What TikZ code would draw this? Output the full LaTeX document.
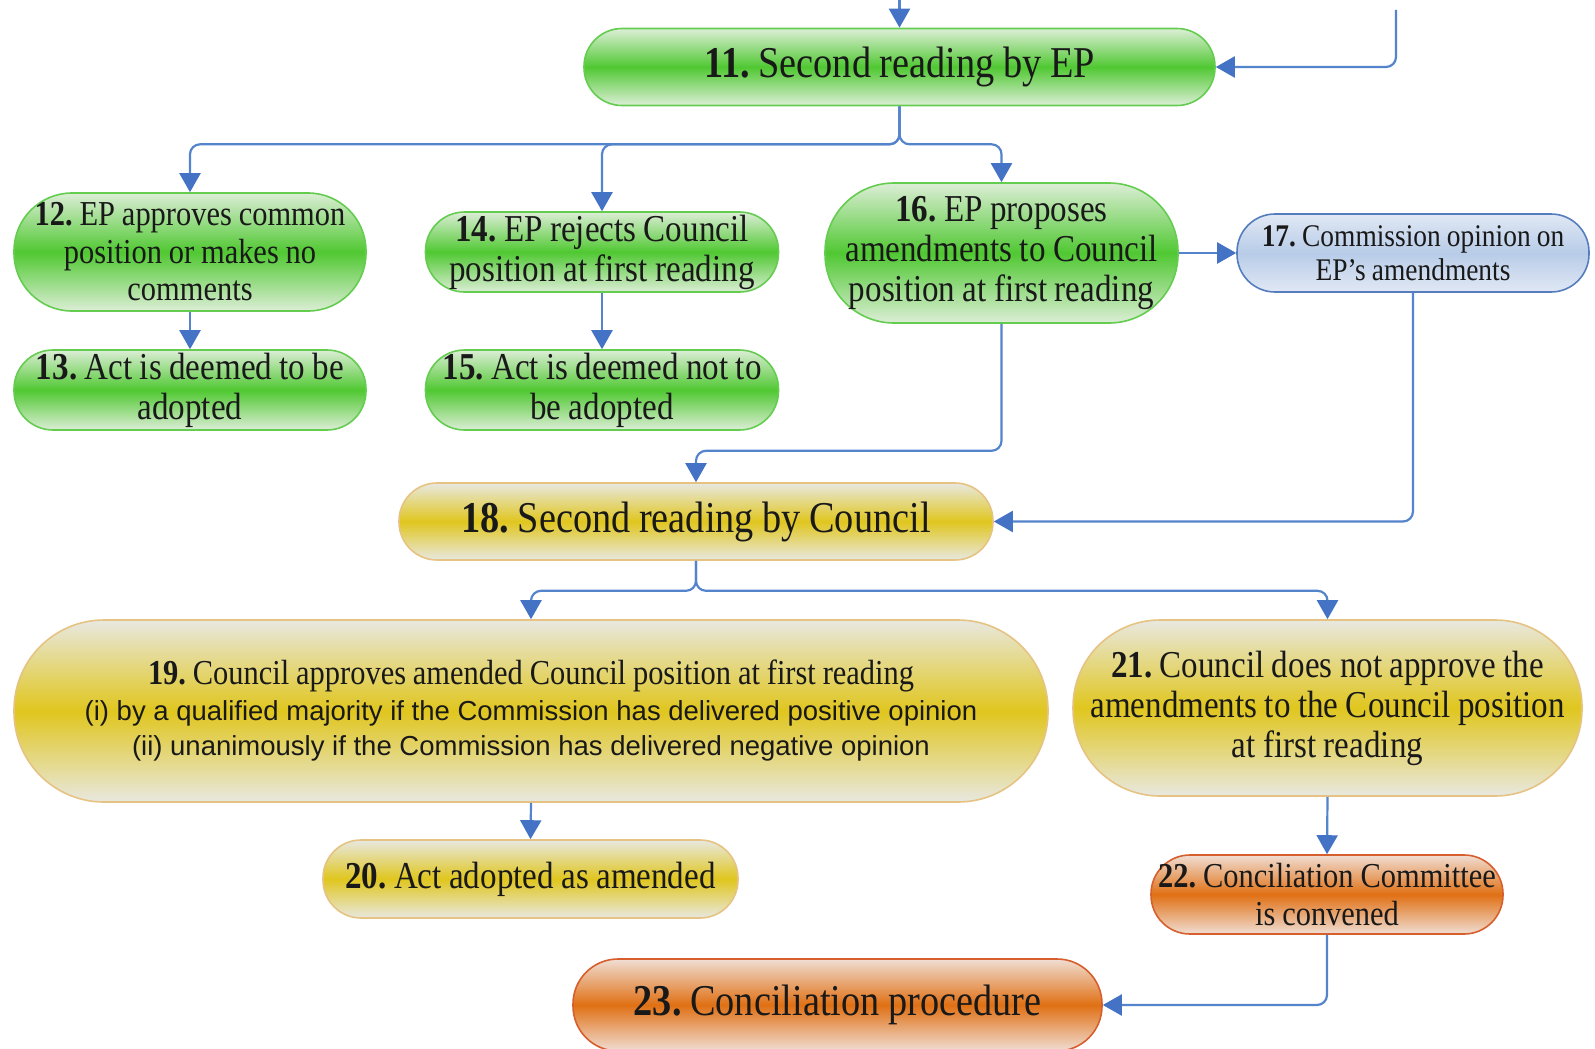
\documentclass[tikz,border=0pt]{standalone}
\usepackage{fontspec}
\setmainfont{Liberation Serif}[FakeStretch=0.87, WordSpace=0.9]
\setsansfont{Liberation Sans}
\frenchspacing
\usetikzlibrary{arrows.meta}
\definecolor{gedge}{RGB}{220,238,214}
\definecolor{gmid}{RGB}{80,200,50}
\definecolor{gborder}{RGB}{100,205,80}
\definecolor{yedge}{RGB}{232,232,224}
\definecolor{ymid}{RGB}{224,198,30}
\definecolor{yborder}{RGB}{230,195,130}
\definecolor{bedge}{RGB}{224,232,244}
\definecolor{bmid}{RGB}{184,204,232}
\definecolor{bborder}{RGB}{85,125,190}
\definecolor{oedge}{RGB}{240,222,212}
\definecolor{omid}{RGB}{224,112,20}
\definecolor{oborder}{RGB}{215,95,45}
\definecolor{arrowc}{RGB}{84,132,204}
\definecolor{headc}{RGB}{68,114,196}
\tikzset{
  box/.style={rectangle, line width=1.6pt, inner sep=0pt, align=center, text=black!90},
  gbox/.style={box, draw=gborder, top color=gedge, bottom color=gedge, middle color=gmid},
  ybox/.style={box, draw=yborder, top color=yedge, bottom color=yedge, middle color=ymid},
  bbox/.style={box, draw=bborder, top color=bedge, bottom color=bedge, middle color=bmid},
  obox/.style={box, draw=oborder, top color=oedge, bottom color=oedge, middle color=omid},
  pill/.style n args={3}{minimum width=#1pt, minimum height=#2pt, rounded corners=#3pt},
  arr/.style={draw=arrowc, line width=2.2pt, rounded corners=10pt, -{Triangle[length=19pt,width=21pt,color=headc]}},
  fbig/.style={font=\fontsize{44}{46}\selectfont},
  fmed/.style={font=\fontsize{38}{40}\selectfont},
  fsml/.style={font=\fontsize{35}{37.5}\selectfont},
  ftiny/.style={font=\fontsize{31.5}{33.6}\selectfont},
}
\begin{document}
\begin{tikzpicture}[x=1pt,y=-1pt]
\useasboundingbox (0,0) rectangle (1595,1049);
\fill[white] (0,0) rectangle (1595,1049);

\node[gbox, pill={631}{77}{38}, fbig] (n11) at (899.5,67) {\textbf{11.} Second reading by EP};
\node[gbox, pill={352}{118}{58}, fsml] (n12) at (190,252) {\textbf{12.} EP approves common\\position or makes no\\comments};
\node[gbox, pill={352}{80}{39}, fmed] (n13) at (190,390) {\textbf{13.} Act is deemed to be\\adopted};
\node[gbox, pill={353}{80}{39}, fmed] (n14) at (602,252) {\textbf{14.} EP rejects Council\\position at first reading};
\node[gbox, pill={353}{80}{39}, fmed] (n15) at (602,390) {\textbf{15.} Act is deemed not to\\be adopted};
\node[gbox, pill={353}{140}{69}, fmed] (n16) at (1001.5,253) {\textbf{16.} EP proposes\\amendments to Council\\position at first reading};
\node[bbox, pill={352}{78}{38}, ftiny] (n17) at (1413,253) {\textbf{17.} Commission opinion on\\EP's amendments};
\node[ybox, pill={594}{77}{38}, fbig] (n18) at (696,521.5) {\textbf{18.} Second reading by Council};
\node[ybox, pill={1034}{182}{90}, fsml] (n19) at (531,711) {\textbf{19.} Council approves amended Council position at first reading\\[-2pt]
  {\sffamily\fontsize{27.5}{33.6}\selectfont (i) by a qualified majority if the Commission has delivered positive opinion}\\[-2pt]
  {\sffamily\fontsize{27.5}{33.6}\selectfont (ii) unanimously if the Commission has delivered negative opinion}};
\node[ybox, pill={415}{78}{38}, fmed] (n20) at (530.5,879) {\textbf{20.} Act adopted as amended};
\node[ybox, pill={509}{176}{87}, fmed] (n21) at (1327.5,708) {\textbf{21.} Council does not approve the\\amendments to the Council position\\at first reading};
\node[obox, pill={352}{79}{39}, fsml] (n22) at (1327,894.5) {\textbf{22.} Conciliation Committee\\is convened};
\node[obox, pill={529}{92}{45}, fbig] (n23) at (837.5,1005) {\textbf{23.} Conciliation procedure};

\coordinate (in11) at (899.5,0);
\coordinate (back11) at (1396,10);
\draw[arr] (in11) -- (n11.north);
\draw[arr] (back11) |- (n11.east);

\draw[arr] (n11.south) -- ++(0,38) -| (n12.north);
\draw[arr] (n11.south) -- ++(0,38) -| (n14.north);
\draw[arr] (n11.south) -- ++(0,38) -| (n16.north);
\draw[arr] (n12.south) -- (n13.north);
\draw[arr] (n14.south) -- (n15.north);
\draw[arr] (n16.east) -- (n17.west);
\draw[arr] (n16.south) -- ++(0,127) -| (n18.north);
\draw[arr] (n17.south) |- (n18.east);
\draw[arr] (n18.south) -- ++(0,30) -| (n19.north);
\draw[arr] (n18.south) -- ++(0,30) -| (n21.north);
\draw[arr] (n19.south) -- (n20.north);
\draw[arr] (n21.south) -- (n22.north);
\draw[arr] (n22.south) |- (n23.east);
\end{tikzpicture}
\end{document}
